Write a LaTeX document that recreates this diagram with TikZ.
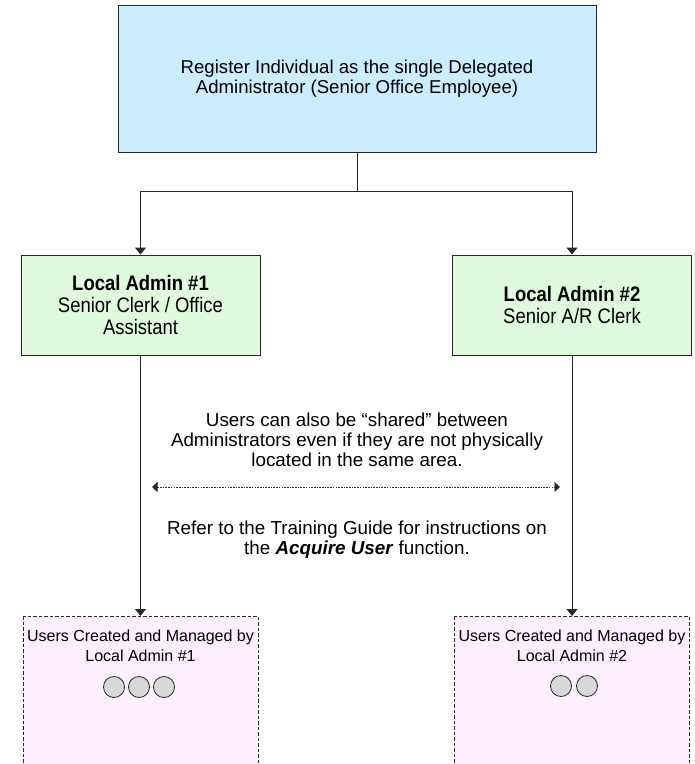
\documentclass[tikz,border=0pt]{standalone}
\usepackage{fontspec}
\setmainfont{Liberation Sans}
\newfontfamily\narrowfont{Liberation Sans}[FakeStretch=0.88]
\usetikzlibrary{arrows.meta}
\definecolor{topfill}{RGB}{204,236,255}
\definecolor{greenfill}{RGB}{224,250,222}
\definecolor{pinkfill}{RGB}{253,239,253}
\definecolor{circfill}{RGB}{216,216,216}
\definecolor{edge}{RGB}{40,40,40}
\tikzset{
  box/.style={draw=edge, line width=0.9pt, inner sep=0pt, align=center},
  topbox/.style={box, fill=topfill, minimum width=478pt, minimum height=147pt,
    font=\fontsize{18.6}{20}\selectfont},
  adminbox/.style={box, fill=greenfill, minimum width=239pt, minimum height=100pt,
    font=\narrowfont\fontsize{21}{22}\selectfont},
  userbox/.style={draw=edge, line width=0.8pt, dash pattern=on 3.5pt off 2pt, fill=pinkfill},
  note/.style={align=center, inner sep=0pt, font=\fontsize{18.8}{20}\selectfont},
  usertext/.style={align=center, inner sep=0pt, font=\fontsize{16}{19.3}\selectfont},
  user/.style={circle, draw=edge, line width=0.8pt, fill=circfill, minimum size=21pt, inner sep=0pt},
  conn/.style={draw=edge, line width=0.9pt},
  arr/.style={conn, -{Triangle[width=11pt,length=7pt]}},
  dotarr/.style={draw=edge, line width=0.7pt, dash pattern=on 1.6pt off 1.1pt,
    {Triangle[width=10pt,length=5.5pt]}-{Triangle[width=10pt,length=5.5pt]}}
}
\begin{document}
\begin{tikzpicture}[x=1pt,y=-1pt]
\useasboundingbox (0,0) rectangle (695,764);
% top box
\node[topbox] (top) at (357,78.5) {Register Individual as the single Delegated\\Administrator (Senior Office Employee)};
% admin boxes
\node[adminbox] (la1) at (140.5,305) {\textbf{Local Admin \#1}\\Senior Clerk / Office\\Assistant};
\node[adminbox] (la2) at (572,305) {\textbf{Local Admin \#2}\\Senior A/R Clerk};
% user boxes
\draw[userbox] (23,616) rectangle (258,770);
\draw[userbox] (454,616) rectangle (689,770);
\coordinate (u1) at (140.5,616);
\coordinate (u2) at (572,616);
\node[usertext, anchor=north] (ut1) at (140.5,630) {Users Created and Managed by\\Local Admin \#1};
\node[usertext, anchor=north] (ut2) at (572,630) {Users Created and Managed by\\Local Admin \#2};
\node[user] (c11) at (114,687) {};
\node[user] (c12) at (139,687) {};
\node[user] (c13) at (164,687) {};
\node[user] (c21) at (561,686) {};
\node[user] (c22) at (587,686) {};
% connectors
\coordinate (j) at (357,191);
\draw[conn] (top.south) -- (j);
\draw[arr] (j) -| (la1.north);
\draw[arr] (j) -| (la2.north);
\draw[arr] (la1.south) -- (u1);
\draw[arr] (la2.south) -- (u2);
% notes
\node[note] (n1) at (357,440) {Users can also be “shared” between\\Administrators even if they are not physically\\located in the same area.};
\coordinate (dl) at (152,487);
\coordinate (dr) at (560,487);
\draw[dotarr] (dl) -- (dr);
\node[note] (n2) at (357,540) {Refer to the Training Guide for instructions on\\the \textbf{\textit{Acquire User}} function.};
\end{tikzpicture}
\end{document}
